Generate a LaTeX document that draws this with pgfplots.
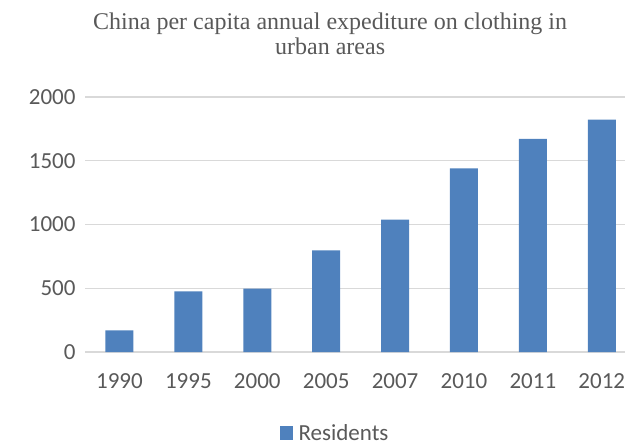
\documentclass[border=0pt]{standalone}
\usepackage{fontspec}
\setmainfont{Carlito}
\newfontfamily\titlefont{Liberation Serif}
\usepackage{pgfplots}
\pgfplotsset{compat=1.18}
\definecolor{barblue}{HTML}{4F81BD}
\definecolor{txtgray}{HTML}{595959}
\definecolor{gridgray}{HTML}{D9D9D9}
\begin{document}
\begin{tikzpicture}
\path[use as bounding box] (0,0) rectangle (625bp,445bp);
\begin{axis}[
    at={(85bp,93bp)}, anchor=south west,
    scale only axis, width=540bp, height=255bp,
    ybar, bar width=28bp,
    xmin=-0.5, xmax=7.337, ymin=0, ymax=2000,
    xtick=data,
    xticklabels={1990,1995,2000,2005,2007,2010,2011,2012},
    ytick={0,500,1000,1500,2000},
    /pgf/number format/assume math mode=true,
    yticklabel style={/pgf/number format/1000 sep={}},
    axis line style={draw=none},
    major tick length=0pt,
    ymajorgrids, grid style={gridgray, line width=1.3bp},
    tick label style={font=\fontsize{23bp}{26bp}\selectfont, text=txtgray},
    xticklabel style={yshift=-18bp},
    yticklabel style={xshift=-6bp},
    clip=false,
    title={China per capita annual expediture on clothing in\\urban areas},
    title style={at={(0.454,1)}, anchor=south, yshift=33bp, align=center,
        font=\titlefont\fontsize{24bp}{25bp}\selectfont, text=txtgray},
    legend style={at={(0.463,-0.318)}, anchor=center, draw=none,
        font=\fontsize{23bp}{26bp}\selectfont, text=txtgray},
]
\addplot[fill=barblue, draw=none,
    legend image code/.code={\fill[barblue] (0bp,-7bp) rectangle (13bp,7bp);}]
    coordinates {
    (0,170) (1,476) (2,497) (3,797) (4,1038) (5,1440) (6,1671) (7,1822)
};
\addlegendentry{\hspace{4bp}Residents}
\end{axis}
\end{tikzpicture}
\end{document}
